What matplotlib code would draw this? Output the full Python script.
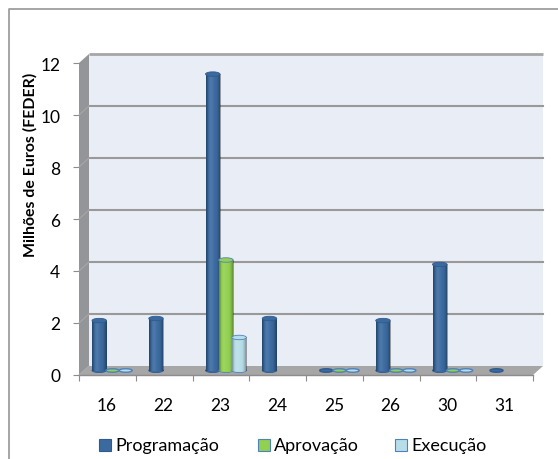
import numpy as np
import matplotlib
matplotlib.use("Agg")
import matplotlib.pyplot as plt
from matplotlib.patches import Ellipse, Polygon, Rectangle

categories = ["16", "22", "23", "24", "25", "26", "30", "31"]
programacao = [1.92, 2.0, 11.4, 2.0, 0.03, 1.92, 4.08, 0.03]
aprovacao = [0.03, None, 4.25, None, 0.03, 0.03, 0.03, None]
execucao = [0.03, None, 1.27, None, 0.03, 0.03, 0.03, None]
series_names = ["Programação", "Aprovação", "Execução"]
yticks = [0, 2, 4, 6, 8, 10, 12]

W, H = 558, 460
FONT = ["Lato", "DejaVu Sans"]
COLORS = ["#3b6aa0", "#92d050", "#b7dee8"]
EDGES = ["#2f5a8c", "#4f81bd", "#4f81bd"]
WALL = "#e9edf6"
GREY = "#a6a6a6"
DARK = "#949599"

plt.rcParams["font.family"] = FONT
fig = plt.figure(figsize=(W / 100, H / 100), dpi=100)
fig.patch.set_facecolor("white")


def px_box(x0, y0, x1, y1):
    return [x0 / W, 1 - y1 / H, (x1 - x0) / W, (y1 - y0) / H]


# outer frame, only top and left are in the picture
fig.add_artist(plt.Line2D([8.5 / W, 8.5 / W, 1], [0, 1 - 10 / H, 1 - 10 / H], color="#969696", lw=1.2))

# axes = front plane of the 3D box
ax = fig.add_axes(px_box(79, 64, 533, 376))
ax.set_xlim(0, len(categories))
ax.set_ylim(0, 12)
ax.patch.set_visible(False)
for s in ax.spines.values():
    s.set_visible(False)

ux = 454 / len(categories)
uy = 312 / 12
dx = 10 / ux
dy = 9 / uy
n = len(categories)

# walls and floor
ax.add_patch(Polygon([(dx, dy), (n + dx, dy), (n + dx, 12 + dy), (dx, 12 + dy)], fc=WALL, ec="none", clip_on=False, zorder=1))
ax.add_patch(Polygon([(0, 0), (dx, dy), (dx, 12 + dy), (0, 12)], fc=DARK, ec="none", clip_on=False, zorder=1))
ax.add_patch(Polygon([(0, 0), (n, 0), (n + dx, dy), (dx, dy)], fc=GREY, ec="none", clip_on=False, zorder=1))
ax.plot([dx, n + dx], [12 + dy, 12 + dy], color=GREY, lw=2, clip_on=False, zorder=2, solid_capstyle="butt")

# gridlines on the back wall with the diagonal on the side wall
for v in yticks[1:-1]:
    ax.plot([dx, n + dx], [v + dy, v + dy], color="#999999", lw=1.5, clip_on=False, zorder=2)
for v in yticks[:-1]:
    ax.plot([0, dx], [v, v + dy], color="#a9a9a9", lw=0.7, clip_on=False, zorder=2)
ax.plot([0, n], [0, 0], color="#8c8c8c", lw=1.0, clip_on=False, zorder=3)

ramp = np.array([-0.3, -0.05, 0.08, 0.1, 0.06, 0.03, 0.0, -0.06, -0.18, -0.35])[None, :]


def cylinder(x, value, width, color, edge, z):
    # body + shading + top ellipse
    base = dy / 2
    top = base + value
    if value < 0.1:
        # flat disc for the near zero values
        ax.add_patch(Ellipse((x + width / 2, base), width * 0.9, 3.5 / uy, fc=color, ec=edge, lw=1.0, clip_on=False, zorder=z))
        return
    ax.add_patch(Rectangle((x, base), width, value, fc=color, ec="none", clip_on=False, zorder=z))
    rgba = np.zeros((1, ramp.shape[1], 4))
    rgba[..., :3] = (ramp[..., None] > 0) * 1.0
    rgba[..., 3] = np.abs(ramp)
    im = ax.imshow(rgba, extent=(x, x + width, base, top), aspect="auto", zorder=z, interpolation="bilinear")
    im.set_clip_on(False)
    ax.add_patch(Ellipse((x + width / 2, base), width, 4 / uy, fc=color, ec=edge, lw=0.6, clip_on=False, zorder=z - 0.1))
    ax.add_patch(Ellipse((x + width / 2, top), width, 4.5 / uy, fc=color, ec=edge, lw=0.6, clip_on=False, zorder=z + 0.1))


bar_w = 14.5 / ux
start = 13 / ux
for i, vals in enumerate([programacao, aprovacao, execucao]):
    for j, v in enumerate(vals):
        if v is None:
            continue
        cylinder(j + start + i * 0.91 * bar_w, v, bar_w, COLORS[i], EDGES[i], 5 + i * 0.5 - j * 0.01)

ax.set_xlim(0, n)
ax.set_ylim(0, 12)

# y axis, x axis
ax.set_yticks(yticks)
ax.set_xticks(np.arange(n + 1))
ax.set_xticklabels([])
ax.tick_params(axis="both", length=4.5, width=0.8, color="#8c8c8c", labelcolor="black")
ax.tick_params(axis="y", labelsize=12.5, pad=9)
for j, c in enumerate(categories):
    ax.text(j + 0.49, -1.17, c, ha="center", va="center", fontsize=12.5, color="black", clip_on=False)
fig.text(30 / W, 1 - 165 / H, "Milhões de Euros (FEDER)", rotation=90, fontsize=11.4,
         fontweight="bold", ha="center", va="center")

# legend
lx = [99, 258, 395]
for name, x, c, e in zip(series_names, lx, COLORS, EDGES):
    fig.add_artist(Rectangle((x / W, 1 - 452 / H), 12 / W, 12 / H, fc=c, ec=e, lw=0.8, transform=fig.transFigure))
    fig.text((x + 16) / W, 1 - 446 / H, name, fontsize=13, va="center", ha="left", color="black")

fig.savefig("out.png", dpi=100)
